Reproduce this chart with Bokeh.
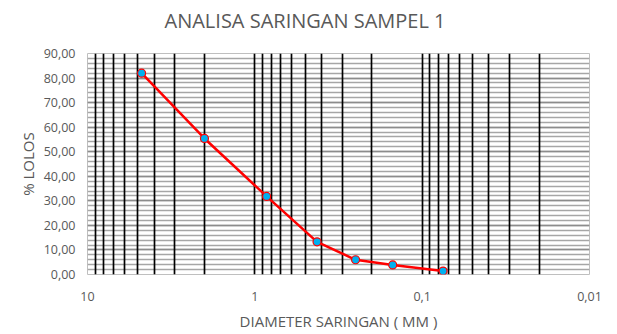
from bokeh.plotting import figure
from bokeh.models import Range1d, FixedTicker, CustomJSTickFormatter, Title
from bokeh.embed import file_html
from bokeh.resources import INLINE

# data
diameter_mm = [4.75, 2.0, 0.85, 0.425, 0.25, 0.15, 0.075]
persen_lolos = [82.0, 55.4, 31.8, 13.3, 6.0, 3.9, 1.4]
x_major = [10, 1, 0.1, 0.01]
y_major = [0, 10, 20, 30, 40, 50, 60, 70, 80, 90]

x_minor = []
for dec in [1, 0.1, 0.01]:
    for m in range(2, 10):
        x_minor.append(round(m * dec, 6))
y_minor = list(range(0, 91, 2))

FONT = "Open Sans"
GREY = "#595959"

p = figure(width=617, height=334, x_axis_type="log",
           x_range=Range1d(10, 0.01), y_range=Range1d(0, 90),
           output_backend="svg", toolbar_location=None,
           min_border_left=87, min_border_right=28,
           min_border_top=53, min_border_bottom=60)

# spacer between title and frame
p.add_layout(Title(text=" ", text_font_size="10px", standoff=6), "above")

p.title.text = "ANALISA SARINGAN SAMPEL 1"
p.title.align = "left"
p.title.text_font = FONT
p.title.text_font_size = "20px"
p.title.text_font_style = "normal"
p.title.text_color = GREY
p.title.offset = 77
p.title.standoff = 2

p.outline_line_color = "#BFBFBF"

# axes
p.xaxis.ticker = FixedTicker(ticks=x_major, minor_ticks=x_minor)
p.xaxis.formatter = CustomJSTickFormatter(code="""
    return tick >= 1 ? tick.toFixed(0) : tick.toPrecision(1).replace('.', ',');
""")
p.yaxis.ticker = FixedTicker(ticks=y_major, minor_ticks=y_minor)
p.yaxis.formatter = CustomJSTickFormatter(code="return tick.toFixed(2).replace('.', ',');")

for ax in (p.xaxis, p.yaxis):
    ax.axis_line_color = None
    ax.major_tick_line_color = None
    ax.minor_tick_line_color = None
    ax.major_label_text_font = FONT
    ax.major_label_text_font_size = "12.5px"
    ax.major_label_text_color = GREY
    ax.axis_label_text_font = FONT
    ax.axis_label_text_font_size = "15px"
    ax.axis_label_text_font_style = "normal"
    ax.axis_label_text_color = GREY

p.xaxis.axis_label = "DIAMETER SARINGAN ( MM )"
p.yaxis.axis_label = "% LOLOS"
p.xaxis.major_label_standoff = 11
p.xaxis.axis_label_standoff = 7
p.yaxis.major_label_standoff = 6
p.yaxis.axis_label_standoff = 3

# grids
p.ygrid.level = "image"
p.xgrid.grid_line_color = "#000000"
p.xgrid.grid_line_width = 1.7
p.xgrid.minor_grid_line_color = "#000000"
p.xgrid.minor_grid_line_width = 1.7
p.ygrid.grid_line_color = "#8C8C8C"
p.ygrid.grid_line_width = 1.3
p.ygrid.minor_grid_line_color = "#A6A6A6"
p.ygrid.minor_grid_line_width = 1.3

# series
p.line(diameter_mm, persen_lolos, line_color="#FF0000", line_width=2.5)
p.scatter(diameter_mm, persen_lolos, size=8, fill_color="#00B0F0",
          line_color="#FF0000", line_width=1.2)

open("out.html", "w").write(file_html(p, INLINE))
